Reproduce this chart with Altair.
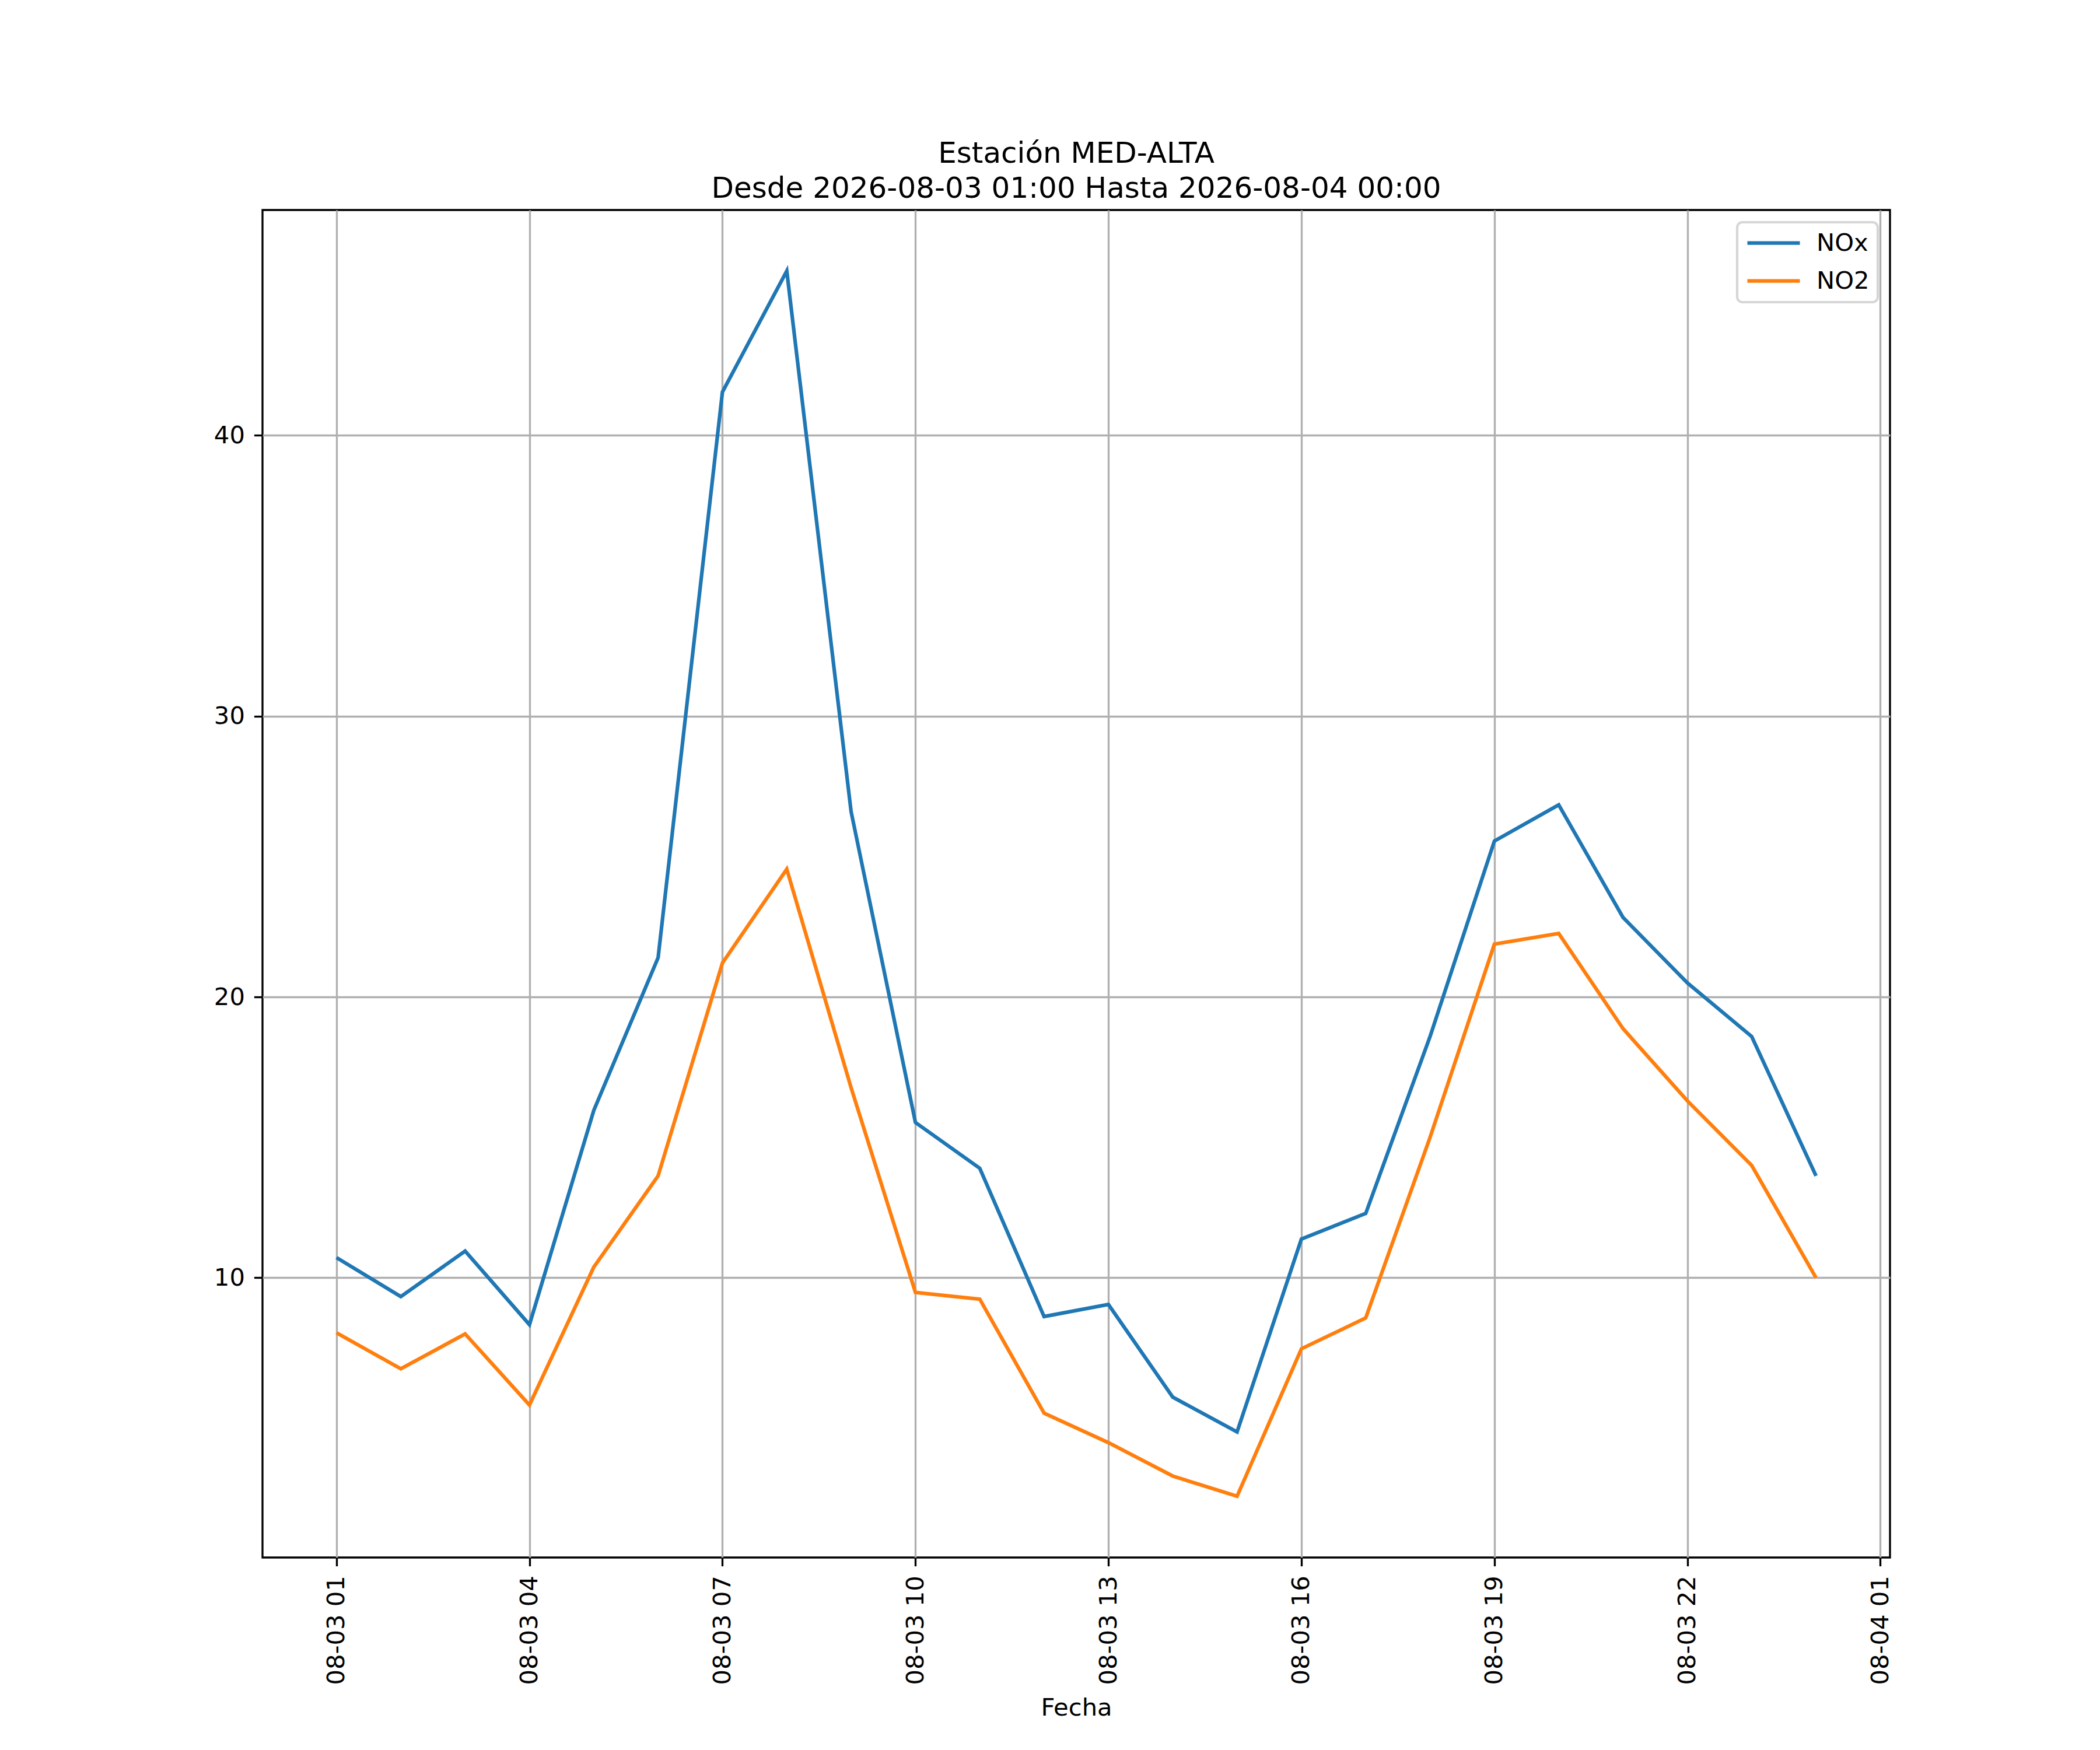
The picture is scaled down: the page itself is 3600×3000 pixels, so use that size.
import altair as alt
import pandas as pd

# Hourly timestamps (UTC) for the station readings
fechas = [
    "2026-08-03T01:00:00Z", "2026-08-03T02:00:00Z", "2026-08-03T03:00:00Z",
    "2026-08-03T04:00:00Z", "2026-08-03T05:00:00Z", "2026-08-03T06:00:00Z",
    "2026-08-03T07:00:00Z", "2026-08-03T08:00:00Z", "2026-08-03T09:00:00Z",
    "2026-08-03T10:00:00Z", "2026-08-03T11:00:00Z", "2026-08-03T12:00:00Z",
    "2026-08-03T13:00:00Z", "2026-08-03T14:00:00Z", "2026-08-03T15:00:00Z",
    "2026-08-03T16:00:00Z", "2026-08-03T17:00:00Z", "2026-08-03T18:00:00Z",
    "2026-08-03T19:00:00Z", "2026-08-03T20:00:00Z", "2026-08-03T21:00:00Z",
    "2026-08-03T22:00:00Z", "2026-08-03T23:00:00Z", "2026-08-04T00:00:00Z",
]

nox = [10.72, 9.33, 10.95, 8.33, 15.96, 21.40, 41.54, 45.85, 26.60, 15.53,
       13.90, 8.62, 9.05, 5.75, 4.51, 11.38, 12.29, 18.59, 25.55, 26.84,
       22.83, 20.50, 18.59, 13.63]

no2 = [8.04, 6.76, 8.00, 5.47, 10.38, 13.63, 21.21, 24.55, 16.77, 9.48,
       9.24, 5.18, 4.13, 2.94, 2.22, 7.47, 8.57, 15.00, 21.88, 22.26,
       18.87, 16.30, 14.00, 10.00]

series_names = ["NOx", "NO2"]
series_colors = ["#1f77b4", "#ff7f0e"]

tick_hours = [(3, 1), (3, 4), (3, 7), (3, 10), (3, 13), (3, 16), (3, 19), (3, 22), (4, 1)]

rows = []
for f, v in zip(fechas, nox):
    rows.append({"Fecha": f, "valor": v, "serie": "NOx"})
for f, v in zip(fechas, no2):
    rows.append({"Fecha": f, "valor": v, "serie": "NO2"})
df = pd.DataFrame(rows)

tick_values = [alt.DateTime(year=2026, month=8, date=d, hours=h, utc=True) for d, h in tick_hours]

x_domain = [
    alt.DateTime(year=2026, month=8, date=2, hours=23, minutes=51, utc=True),
    alt.DateTime(year=2026, month=8, date=4, hours=1, minutes=9, utc=True),
]

FONT = "DejaVu Sans"
FS = 41.7

chart = alt.Chart(df).mark_line(strokeWidth=6.25, clip=True).encode(
    x=alt.X(
        "Fecha:T",
        scale=alt.Scale(type="utc", domain=x_domain, nice=False),
        axis=alt.Axis(
            values=tick_values,
            labelExpr="utcFormat(datum.value, '%m-%d %H')",
            labelAngle=270,
            labelAlign="right",
            labelBaseline="middle",
            labelLimit=2000,
            title="Fecha",
            titlePadding=37,
        ),
    ),
    y=alt.Y(
        "valor:Q",
        scale=alt.Scale(domain=[0.04, 48.02], nice=False, zero=False),
        axis=alt.Axis(values=[10, 20, 30, 40], title=None),
    ),
    color=alt.Color(
        "serie:N",
        sort=series_names,
        scale=alt.Scale(domain=series_names, range=series_colors),
        legend=alt.Legend(
            title=None,
            orient="none",
            legendX=2528,
            legendY=21,
            symbolType="M-1,0H4",
            symbolSize=1296,
            symbolStrokeWidth=6.25,
            labelFontSize=FS,
            labelFont=FONT,
            labelColor="black",
            labelOffset=79,
            padding=14,
            rowPadding=21,
            strokeColor="#d6d6d6",
            cornerRadius=9,
            fillColor="white",
        ),
    ),
    order=alt.Order("serie:N"),
).properties(
    width=2790,
    height=2310,
    title=alt.TitleParams(
        text=["Estación MED-ALTA", "Desde 2026-08-03 01:00 Hasta 2026-08-04 00:00"],
        fontSize=50,
        font=FONT,
        fontWeight="normal",
        color="black",
        anchor="middle",
        frame="group",
        baseline="bottom",
        offset=-39,
        lineHeight=60,
    ),
    autosize=alt.AutoSizeParams(type="none"),
    padding={"left": 442, "top": 352, "right": 352, "bottom": 322},
).configure_view(
    stroke="black", strokeWidth=3.33
).configure_axis(
    labelFont=FONT,
    labelFontSize=FS,
    labelColor="black",
    tickSize=14.6,
    tickWidth=3.33,
    tickColor="black",
    labelPadding=16,
    grid=True,
    gridColor="#b0b0b0",
    gridWidth=3.33,
    domain=False,
    titleFont=FONT,
    titleFontSize=FS,
    titleFontWeight="normal",
    titleColor="black",
).configure_legend(
    strokeWidth=4.17
)

chart.save("out.html", embed_options={"renderer": "svg", "actions": False})
